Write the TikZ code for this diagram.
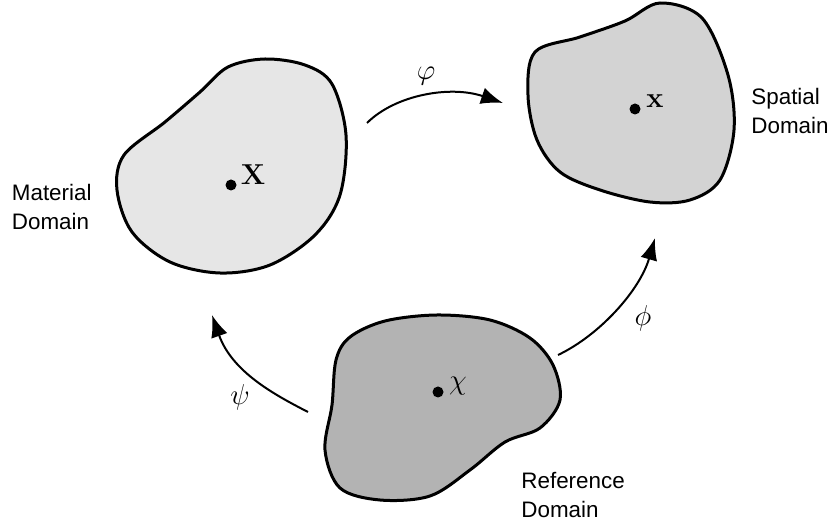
\documentclass[tikz,border=0pt]{standalone}
\usepackage[no-math]{fontspec}
\newfontfamily\labelfont{Liberation Sans}
\usetikzlibrary{arrows.meta}
\definecolor{matgray}{HTML}{E6E6E6}
\definecolor{spagray}{HTML}{D3D3D3}
\definecolor{refgray}{HTML}{B3B3B3}
\begin{document}
\begin{tikzpicture}[x=0.5pt,y=-0.5pt,
  blob/.style={line width=1.5pt, draw=black},
  map/.style={line width=1pt, -{Latex[length=11pt,width=8.5pt]}},
  pt/.style={circle, fill=black, inner sep=0pt, minimum size=5.5pt},
  sym/.style={inner sep=0pt, font=\fontsize{15}{17}\selectfont},
  lbl/.style={anchor=north west, inner sep=0pt, align=left, font=\labelfont\fontsize{11.2}{14.5}\selectfont}]
\useasboundingbox (0,0) rectangle (832,524);

% Material domain
\filldraw[blob, fill=matgray] plot[smooth cycle, tension=0.55] coordinates {
 (165,122) (200,92) (228,67) (265,59) (305,65) (332,84) (346,135) (340,195)
 (315,235) (270,265) (220,273) (170,262) (132,232) (117,190) (124,155)};
% Spatial domain
\filldraw[blob, fill=spagray] plot[smooth cycle, tension=0.55] coordinates {
 (625,21) (660,3) (702,18) (728,75) (734,130) (720,180) (690,200) (650,202)
 (600,190) (560,172) (537,140) (528,95) (535,52) (580,37)};
% Reference domain
\filldraw[blob, fill=refgray] plot[smooth cycle, tension=0.55] coordinates {
 (350,337) (385,321) (437,315) (490,320) (530,338) (553,365) (560,400)
 (540,428) (505,442) (470,470) (430,496) (380,500) (340,488) (325,450)
 (332,405) (336,360)};

% points and symbols
\node[pt] (pX) at (231,185) {};
\node[sym] (sX) at (253,175) {$\mathbf{X}$};
\node[pt] (px) at (635,109) {};
\node[sym] (sx) at (655,101) {$\mathbf{x}$};
\node[pt] (pchi) at (438,392) {};
\node[sym] (schi) at (458,386) {$\chi$};

% labels
\node[lbl] (lmat) at (11.5,184) {Material\\Domain};
\node[lbl] (lspa) at (751,88) {Spatial\\Domain};
\node[lbl] (lref) at (521,472) {Reference\\Domain};

% maps
\coordinate (varphiS) at (367,123);
\coordinate (varphiE) at (503,103);
\draw[map] (varphiS) .. controls (395,95) and (450,85) .. (varphiE);
\node[sym] (lvarphi) at (426,76) {$\varphi$};

\coordinate (psiS) at (308,412);
\coordinate (psiE) at (212,315);
\draw[map] (psiS) .. controls (275,395) and (232,372) .. (psiE);
\node[sym] (lpsi) at (240,397) {$\psi$};

\coordinate (phiS) at (558,355);
\coordinate (phiE) at (655,238);
\draw[map] (phiS) .. controls (600,335) and (640,290) .. (phiE);
\node[sym] (lphi) at (643,318) {$\phi$};
\end{tikzpicture}
\end{document}
